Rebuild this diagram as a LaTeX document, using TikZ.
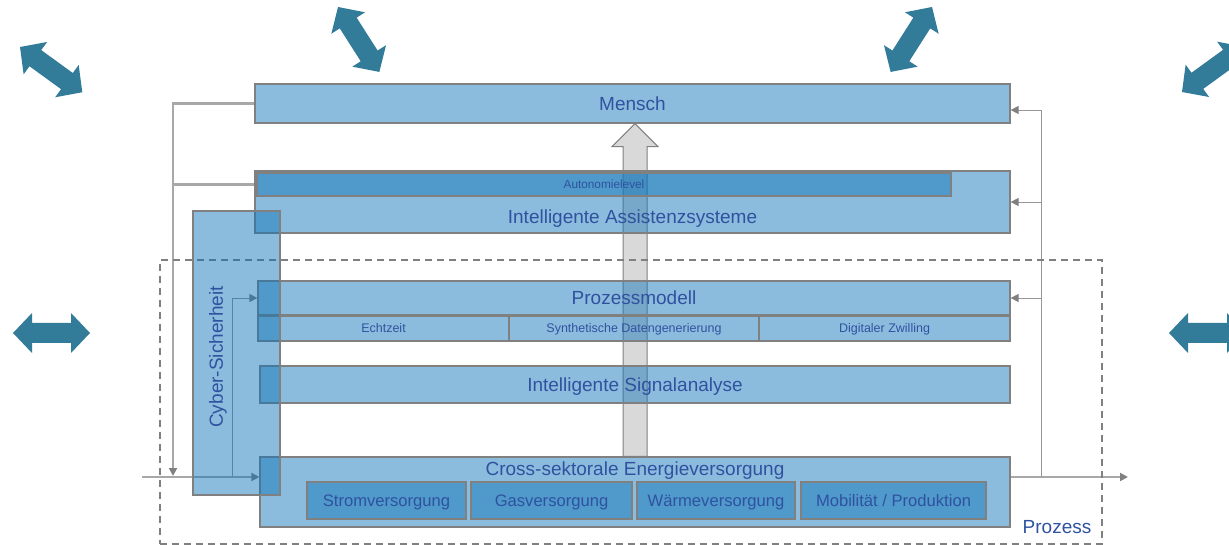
\documentclass[tikz,border=0pt]{standalone}
\usepackage{fontspec}
\setmainfont{Liberation Sans}
\usetikzlibrary{arrows.meta,backgrounds,calc}

\definecolor{layerblue}{RGB}{15,115,184}
\definecolor{boxline}{RGB}{128,128,128}
\definecolor{txtblue}{RGB}{47,82,160}
\definecolor{flowteal}{RGB}{50,124,154}
\definecolor{arrowgray}{RGB}{217,217,217}
\definecolor{feedgray}{RGB}{168,168,168}
\definecolor{thingray}{RGB}{150,150,150}

\tikzset{
  layerbox/.style={draw=boxline, line width=1.2pt, fill=layerblue, fill opacity=0.48,
    text opacity=1, text=txtblue, inner sep=0pt, anchor=center},
  bigtext/.style={font=\fontsize{19}{22}\selectfont, text height=13.6pt, text depth=0pt},
  midtext/.style={font=\fontsize{16.6}{20}\selectfont, text height=11.9pt, text depth=0pt},
  smalltext/.style={font=\fontsize{12.5}{15}\selectfont, text height=9pt, text depth=0pt},
  tinytext/.style={font=\fontsize{11.8}{14}\selectfont, text height=8.5pt, text depth=0pt},
  label text/.style={text=txtblue, inner sep=0pt, anchor=center},
  frame/.style={draw=boxline, line width=1.3pt, dash pattern=on 7pt off 5pt,
    inner sep=0pt, anchor=center},
  feed/.style={draw=feedgray, line width=2.4pt},
  thinfeed/.style={draw=thingray, line width=0.9pt},
  tip/.style={-{Triangle[length=8pt,width=8pt,fill=boxline,color=boxline]}},
  twoway/.pic={\fill[flowteal] (0,0) -- (19,20) -- (19,10) -- (58,10) -- (58,20)
    -- (77,0) -- (58,-20) -- (58,-10) -- (19,-10) -- (19,-20) -- cycle;}
}

\begin{document}
\begin{tikzpicture}[x=1pt,y=-1pt]
\useasboundingbox (0,0) rectangle (1229,545);
\clip (0,0) rectangle (1229,545);

% surrounding exchange arrows
\pic[rotate=-36] at (20,47) {twoway};
\pic[rotate=-57.5] at (338,7) {twoway};
\pic[rotate=-122.5] at (932,7) {twoway};
\pic[rotate=36] at (1182,92) {twoway};
\pic at (13,333) {twoway};
\pic at (1169,333) {twoway};

% process frame
\node[frame, minimum width=942pt, minimum height=284pt] (frame) at (631,402) {};
\node[label text, bigtext] (prozess) at (1057,527) {Prozess};

% layers
\node[layerbox, bigtext, minimum width=755pt, minimum height=39pt] (mensch) at (632.5,103.5) {Mensch};
\node[layerbox, minimum width=755pt, minimum height=62pt] (assist) at (632.5,202) {};
\node[layerbox, tinytext, minimum width=694pt, minimum height=23pt] (autonomie) at (604,184.5) {Autonomielevel};
\node[label text, bigtext] (assisttext) at (632.5,217) {Intelligente Assistenzsysteme};

\node[layerbox, bigtext, minimum width=752pt, minimum height=34pt] (modell) at (634,298) {Prozessmodell};
\node[layerbox, smalltext, minimum width=251pt, minimum height=25pt] (echtzeit) at (383.5,328.5) {Echtzeit};
\node[layerbox, smalltext, minimum width=250pt, minimum height=25pt] (synth) at (634,328.5) {Synthetische Datengenerierung};
\node[layerbox, smalltext, minimum width=251pt, minimum height=25pt] (zwilling) at (884.5,328.5) {Digitaler Zwilling};

\node[layerbox, bigtext, minimum width=750pt, minimum height=37pt] (signal) at (635,384.5) {Intelligente Signalanalyse};

\node[layerbox, minimum width=750pt, minimum height=70pt] (cross) at (635,492) {};
\node[label text, bigtext] (crosstext) at (635,469) {Cross-sektorale Energieversorgung};
\node[layerbox, midtext, minimum width=159pt, minimum height=37pt] (strom) at (386.5,500.5) {Stromversorgung};
\node[layerbox, midtext, minimum width=161pt, minimum height=37pt] (gas) at (551.5,500.5) {Gasversorgung};
\node[layerbox, midtext, minimum width=158pt, minimum height=37pt] (waerme) at (716,500.5) {Wärmeversorgung};
\node[layerbox, midtext, minimum width=185pt, minimum height=37pt] (mobil) at (893.5,500.5) {Mobilität / Produktion};

\node[layerbox, minimum width=87pt, minimum height=284pt] (cyber) at (236.5,353) {};
\node[label text, bigtext, rotate=90] (cybertext) at (216,357) {Cyber-Sicherheit};

% free ends of the flow lines
\coordinate (join) at (173,476);
\coordinate (inlet) at (142,477);
\coordinate (tap) at (232,477);
\coordinate (outlet) at (1128,477);
\coordinate (rtap) at (1041,477);
\coordinate (rtop) at (1041,110);

\begin{scope}[on background layer]
  % upward information flow
  \coordinate (head) at (cross.north |- mensch.south);
  \draw[boxline, line width=1pt, fill=arrowgray]
    ([xshift=-12pt]cross.north) -- ([xshift=-12pt,yshift=-23pt]head)
    -- ([xshift=-23pt,yshift=-23pt]head) -- (head)
    -- ([xshift=23pt,yshift=-23pt]head) -- ([xshift=12pt,yshift=-23pt]head)
    -- ([xshift=12pt]cross.north) -- cycle;

  % feedback from the top layers into the process input
  \draw[feed] (mensch.west) -| ([yshift=4pt]join);
  \draw[feed] (assist.west |- autonomie.west) -- (join |- autonomie.west);
  \draw[feed, tip] ([yshift=6pt]join) -- (join);
  \draw[feed, tip] (inlet) -- (cross.west |- inlet);
  \draw[thinfeed, tip] (tap) |- (modell.west);

  % process output and its return paths
  \draw[feed, tip] (cross.east |- outlet) -- (outlet);
  \draw[thinfeed] (rtap) -- (rtop);
  \draw[thinfeed, tip] (rtop) -- (mensch.east |- rtop);
  \draw[thinfeed, tip] (rtap |- assist.east) -- (assist.east);
  \draw[thinfeed, tip] (rtap |- modell.east) -- (modell.east);
\end{scope}
\end{tikzpicture}
\end{document}
